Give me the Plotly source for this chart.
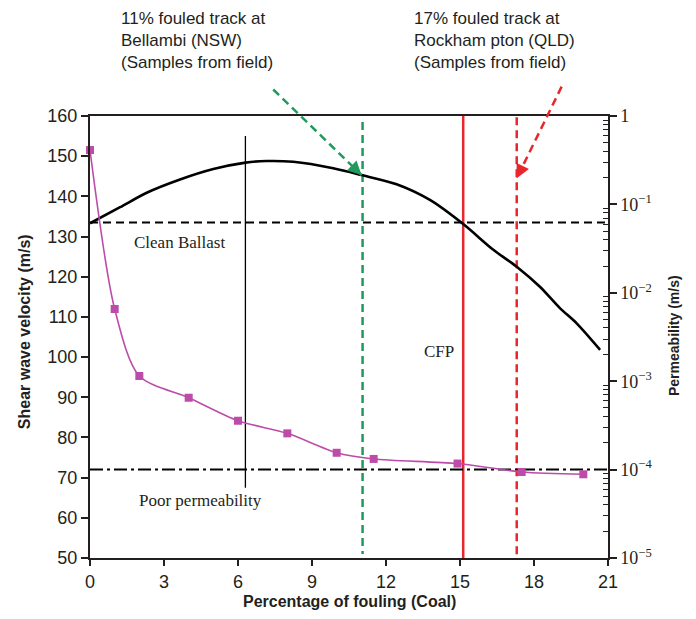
import plotly.graph_objects as go

# ---------------- data ----------------
# Shear wave velocity curve (left axis, m/s) vs fouling %
vel_x = [0, 1.22, 2.30, 3.65, 5.0, 6.31, 7.16, 8.24, 9.86, 11.01, 12.43, 13.78,
         15.13, 16.35, 17.3, 18.24, 19.05, 19.73, 20.68]
vel_y = [133.3, 137.3, 140.9, 144.2, 146.8, 148.4, 148.8, 148.6, 147.0, 145.3,
         143.0, 139.1, 133.1, 126.7, 122.5, 117.5, 112.2, 108.4, 101.8]

# Permeability (right axis, m/s) vs fouling %
perm_x = [0, 1, 2, 4, 6, 8, 10, 11.5, 14.9, 17.5, 20]
perm_y = [0.412, 6.56e-3, 1.145e-3, 6.50e-4, 3.57e-4, 2.57e-4, 1.55e-4, 1.32e-4,
          1.17e-4, 9.4e-5, 8.85e-5]

clean_ballast_velocity = 133.5      # m/s
poor_permeability = 1e-4            # m/s
divider_x = 6.3
divider_y = [155, 67.5]
bellambi_x = 11.05
bellambi_y = [158.5, 51]
cfp_x = 15.13
rockhampton_x = 17.3
rockhampton_y = [159.7, 49]

x_ticks = [0, 3, 6, 9, 12, 15, 18, 21]
y_ticks = [50, 60, 70, 80, 90, 100, 110, 120, 130, 140, 150, 160]
y2_tickvals = [1, 1e-1, 1e-2, 1e-3, 1e-4, 1e-5]
y2_ticktext = ["1", "10<sup>−1</sup>", "10<sup>−2</sup>", "10<sup>−3</sup>",
               "10<sup>−4</sup>", "10<sup>−5</sup>"]

# arrows (tail -> head) in data coordinates
green_arrow = [(7.43, 166.6), (11.01, 145.3)]
red_arrow = [(19.12, 167.3), (17.3, 144.5)]

# ---------------- styling ----------------
BLACK = "#231F20"
MAGENTA = "#BC4CA8"
GREEN = "#1F9A5C"
RED = "#E8262B"
SANS = "Liberation Sans, Arial, sans-serif"
SERIF = "Liberation Serif, Times New Roman, serif"

XR = [0, 21]
YR = [50, 160]
PLOT_W, PLOT_H = 518, 442


def px(x):
    return (x - XR[0]) / (XR[1] - XR[0])


def py(y):
    return (y - YR[0]) / (YR[1] - YR[0])


fig = go.Figure()

# horizontal reference lines
fig.add_trace(go.Scatter(x=[XR[0], XR[1]], y=[clean_ballast_velocity] * 2, mode="lines",
                         line=dict(color="black", width=2, dash="8px,5px"),
                         showlegend=False, hoverinfo="skip"))
fig.add_trace(go.Scatter(x=[XR[0], XR[1]], y=[poor_permeability] * 2, mode="lines",
                         yaxis="y2",
                         line=dict(color="black", width=2, dash="13px,4px,3px,4px"),
                         showlegend=False, hoverinfo="skip"))

# vertical lines
fig.add_trace(go.Scatter(x=[divider_x] * 2, y=divider_y, mode="lines",
                         line=dict(color="black", width=1.3),
                         showlegend=False, hoverinfo="skip"))
fig.add_trace(go.Scatter(x=[bellambi_x] * 2, y=bellambi_y, mode="lines",
                         line=dict(color=GREEN, width=2.5, dash="8px,5px"),
                         showlegend=False, hoverinfo="skip"))
fig.add_trace(go.Scatter(x=[cfp_x] * 2, y=YR, mode="lines",
                         line=dict(color=RED, width=2.5),
                         showlegend=False, hoverinfo="skip"))
fig.add_trace(go.Scatter(x=[rockhampton_x] * 2, y=rockhampton_y, mode="lines",
                         line=dict(color=RED, width=2.5, dash="8px,5px"),
                         showlegend=False, hoverinfo="skip"))

# velocity curve
fig.add_trace(go.Scatter(x=vel_x, y=vel_y, mode="lines",
                         line=dict(color="black", width=2.6, shape="spline", smoothing=0.8),
                         showlegend=False))

# permeability curve
fig.add_trace(go.Scatter(x=perm_x, y=perm_y, mode="lines+markers", yaxis="y2",
                         line=dict(color=MAGENTA, width=1.6, shape="spline", smoothing=0.8),
                         marker=dict(symbol="square", size=8, color=MAGENTA),
                         showlegend=False, cliponaxis=False))

shapes = []
annotations = []

# dashed arrows
for (tail, head), col in [(green_arrow, GREEN), (red_arrow, RED)]:
    shapes.append(dict(type="line", xref="paper", yref="paper",
                       x0=px(tail[0]), y0=py(tail[1]), x1=px(head[0]), y1=py(head[1]),
                       line=dict(color=col, width=2.5, dash="8px,5px")))
    # arrowhead
    dxp = (tail[0] - head[0]) / (XR[1] - XR[0]) * PLOT_W
    dyp = -(tail[1] - head[1]) / (YR[1] - YR[0]) * PLOT_H
    n = (dxp ** 2 + dyp ** 2) ** 0.5
    annotations.append(dict(x=head[0], y=head[1], xref="x", yref="y", text="",
                            showarrow=True, arrowhead=2, arrowsize=1.1, arrowwidth=2.5,
                            arrowcolor=col, standoff=0,
                            ax=dxp / n * 10, ay=dyp / n * 10))

# field sample texts
annotations.append(dict(xref="paper", yref="paper", x=px(1.18), y=1.2465,
                        xanchor="left", yanchor="top", align="left", showarrow=False,
                        text="11% fouled track at<br>Bellambi (NSW)<br>(Samples from field)",
                        font=dict(family=SANS, size=17, color=BLACK)))
annotations.append(dict(xref="paper", yref="paper", x=px(13.05), y=1.2465,
                        xanchor="left", yanchor="top", align="left", showarrow=False,
                        text="17% fouled track at<br>Rockham pton (QLD)<br>(Samples from field)",
                        font=dict(family=SANS, size=17, color=BLACK)))

# in-plot labels
for txt, x, y in [("Clean Ballast", 3.63, 128.6), ("Poor permeability", 4.48, 64.4),
                  ("CFP", 14.15, 101.3)]:
    annotations.append(dict(x=x, y=y, xref="x", yref="y", text=txt, showarrow=False,
                            xanchor="center", yanchor="middle",
                            font=dict(family=SERIF, size=17, color=BLACK)))

# axis titles
annotations.append(dict(xref="paper", yref="paper", x=-0.1274, y=0.511,
                        xanchor="center", yanchor="middle",
                        text="<b>Shear wave velocity (m/s)</b>",
                        textangle=-90, showarrow=False,
                        font=dict(family=SANS, size=16, color=BLACK)))
annotations.append(dict(xref="paper", yref="paper", x=0.5, y=-0.0985,
                        xanchor="center", yanchor="middle",
                        text="<b>Percentage of fouling (Coal)</b>", showarrow=False,
                        font=dict(family=SANS, size=16, color=BLACK)))
annotations.append(dict(xref="paper", yref="paper", x=1.1274, y=0.5045,
                        xanchor="center", yanchor="middle",
                        text="<b>Permeability (m/s)</b>", textangle=-90, showarrow=False,
                        font=dict(family=SANS, size=14, color=BLACK)))

minor_vals = [k * 10 ** e for e in range(-5, 0) for k in range(2, 10)]

fig.update_layout(
    width=680, height=603,
    margin=dict(l=82, r=80, t=108, b=53, autoexpand=False),
    paper_bgcolor="white", plot_bgcolor="white",
    showlegend=False,
    shapes=shapes,
    annotations=annotations,
    xaxis=dict(range=XR, tickvals=x_ticks, showgrid=False, zeroline=False,
               showline=True, linecolor=BLACK, linewidth=2, mirror=True,
               ticks="outside", ticklen=6, tickwidth=1.5, tickcolor=BLACK,
               tickfont=dict(family=SANS, size=18, color=BLACK)),
    yaxis=dict(range=YR, tickvals=y_ticks, showgrid=False, zeroline=False,
               showline=True, linecolor=BLACK, linewidth=2,
               ticks="outside", ticklen=7, tickwidth=1.5, tickcolor=BLACK,
               tickfont=dict(family=SANS, size=18, color=BLACK)),
    yaxis2=dict(type="log", range=[-5, 0], overlaying="y", side="right",
                tickmode="array", tickvals=y2_tickvals, ticktext=y2_ticktext,
                showgrid=False, zeroline=False,
                showline=True, linecolor=BLACK, linewidth=1.5,
                ticks="outside", ticklen=7, tickwidth=1.5, tickcolor=BLACK,
                tickfont=dict(family=SERIF, size=18, color=BLACK),
                minor=dict(tickmode="array", tickvals=minor_vals, ticks="inside",
                           ticklen=5, tickwidth=1, tickcolor=BLACK, showgrid=False)),
)

fig.write_html("out.html")
